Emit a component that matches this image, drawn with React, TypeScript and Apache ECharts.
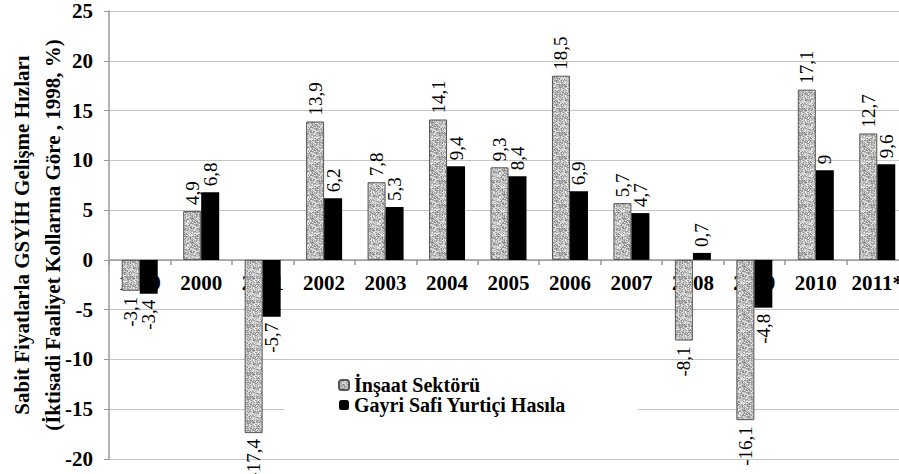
import React, { useEffect, useRef } from "react";
import * as echarts from "echarts";

const categories = ["1999", "2000", "2001", "2002", "2003", "2004", "2005", "2006", "2007", "2008", "2009", "2010", "2011*"];
const insaat = [-3.1, 4.9, -17.4, 13.9, 7.8, 14.1, 9.3, 18.5, 5.7, -8.1, -16.1, 17.1, 12.7];
const gsyh = [-3.4, 6.8, -5.7, 6.2, 5.3, 9.4, 8.4, 6.9, 4.7, 0.7, -4.8, 9, 9.6];
const seriesNames = ["İnşaat Sektörü", "Gayri Safi Yurtiçi Hasıla"];
const yAxisName = "Sabit Fiyatlarla GSYİH Gelişme Hızları\n(İktisadi Faaliyet Kollarına Göre , 1998, %)";

const FONT = "Times New Roman, Liberation Serif, serif";

function makeTexture(): HTMLCanvasElement {
  const c = document.createElement("canvas");
  c.width = 24;
  c.height = 24;
  const ctx = c.getContext("2d")!;
  const img = ctx.createImageData(24, 24);
  for (let y = 0; y < 24; y++) {
    for (let x = 0; x < 24; x++) {
      const s = Math.sin(x * 12.9898 + y * 78.233) * 43758.5453;
      const v = s - Math.floor(s);
      const g = Math.round(135 + v * 105);
      const i = (y * 24 + x) * 4;
      img.data[i] = g;
      img.data[i + 1] = g;
      img.data[i + 2] = g;
      img.data[i + 3] = 255;
    }
  }
  ctx.putImageData(img, 0, 0);
  return c;
}

const fmt = (v: number) => String(v).replace(".", ",");

function withLabels(values: number[]) {
  return values.map((v) => ({
    value: v,
    label: {
      position: v >= 0 ? "top" : "bottom",
      align: v >= 0 ? "left" : "right",
    },
  }));
}

export default function App() {
  const ref = useRef<HTMLDivElement>(null);
  useEffect(() => {
    document.body.style.margin = "0";
    const chart = echarts.init(ref.current!, null, { renderer: "svg" });
    const tex = makeTexture();
    const labelBase = {
      show: true,
      rotate: 90,
      verticalAlign: "middle",
      distance: 6,
      fontFamily: FONT,
      fontSize: 19,
      color: "#000",
      formatter: (p: any) => fmt(p.value),
    };
    chart.setOption({
      animation: false,
      backgroundColor: "#fff",
      textStyle: { fontFamily: FONT },
      grid: {
        left: 109,
        top: 11,
        width: 799,
        height: 448,
        containLabel: false,
        outerBoundsMode: "none",
      },
      legend: {
        orient: "vertical",
        left: 284,
        top: 366,
        itemWidth: 10,
        itemHeight: 10,
        itemGap: 0,
        padding: [9, 72, 12, 54],
        backgroundColor: "#fff",
        textStyle: { fontFamily: FONT, fontSize: 20, fontWeight: "bold", color: "#000", lineHeight: 20 },
        data: seriesNames,
      },
      xAxis: {
        type: "category",
        data: categories,
        offset: -199,
        axisLine: { onZero: false, lineStyle: { color: "#999", width: 1.5 } },
        axisTick: { show: true, length: 5, lineStyle: { color: "#999", width: 1.5 } },
        axisLabel: { fontFamily: FONT, fontSize: 21, fontWeight: "bold", color: "#000", margin: 12, interval: 0 },
      },
      yAxis: {
        type: "value",
        min: -20,
        max: 25,
        interval: 5,
        name: yAxisName,
        nameLocation: "middle",
        nameRotate: 90,
        nameGap: 41,
        nameMoveOverlap: false,
        nameTextStyle: { fontFamily: FONT, fontSize: 21, fontWeight: "bold", color: "#000", lineHeight: 31 },
        axisLine: { show: true, lineStyle: { color: "#999", width: 1.5 } },
        axisTick: { show: true, length: 5, lineStyle: { color: "#999" } },
        splitLine: { lineStyle: { color: "#c4c4c4", width: 1.2 } },
        axisLabel: { fontFamily: FONT, fontSize: 21, fontWeight: "bold", color: "#000", margin: 16 },
      },
      series: [
        {
          name: seriesNames[0],
          type: "bar",
          barWidth: 18,
          barGap: "0%",
          data: withLabels(insaat),
          itemStyle: {
            color: { image: tex, repeat: "repeat", imageWidth: 24, imageHeight: 24 } as any,
            borderColor: "#555",
            borderWidth: 1,
          },
          label: labelBase,
        },
        {
          name: seriesNames[1],
          type: "bar",
          barWidth: 18,
          barGap: "0%",
          data: withLabels(gsyh),
          itemStyle: { color: "#000" },
          label: labelBase,
        },
      ],
    });
    return () => chart.dispose();
  }, []);
  return <div ref={ref} style={{ width: 899, height: 474 }} />;
}
